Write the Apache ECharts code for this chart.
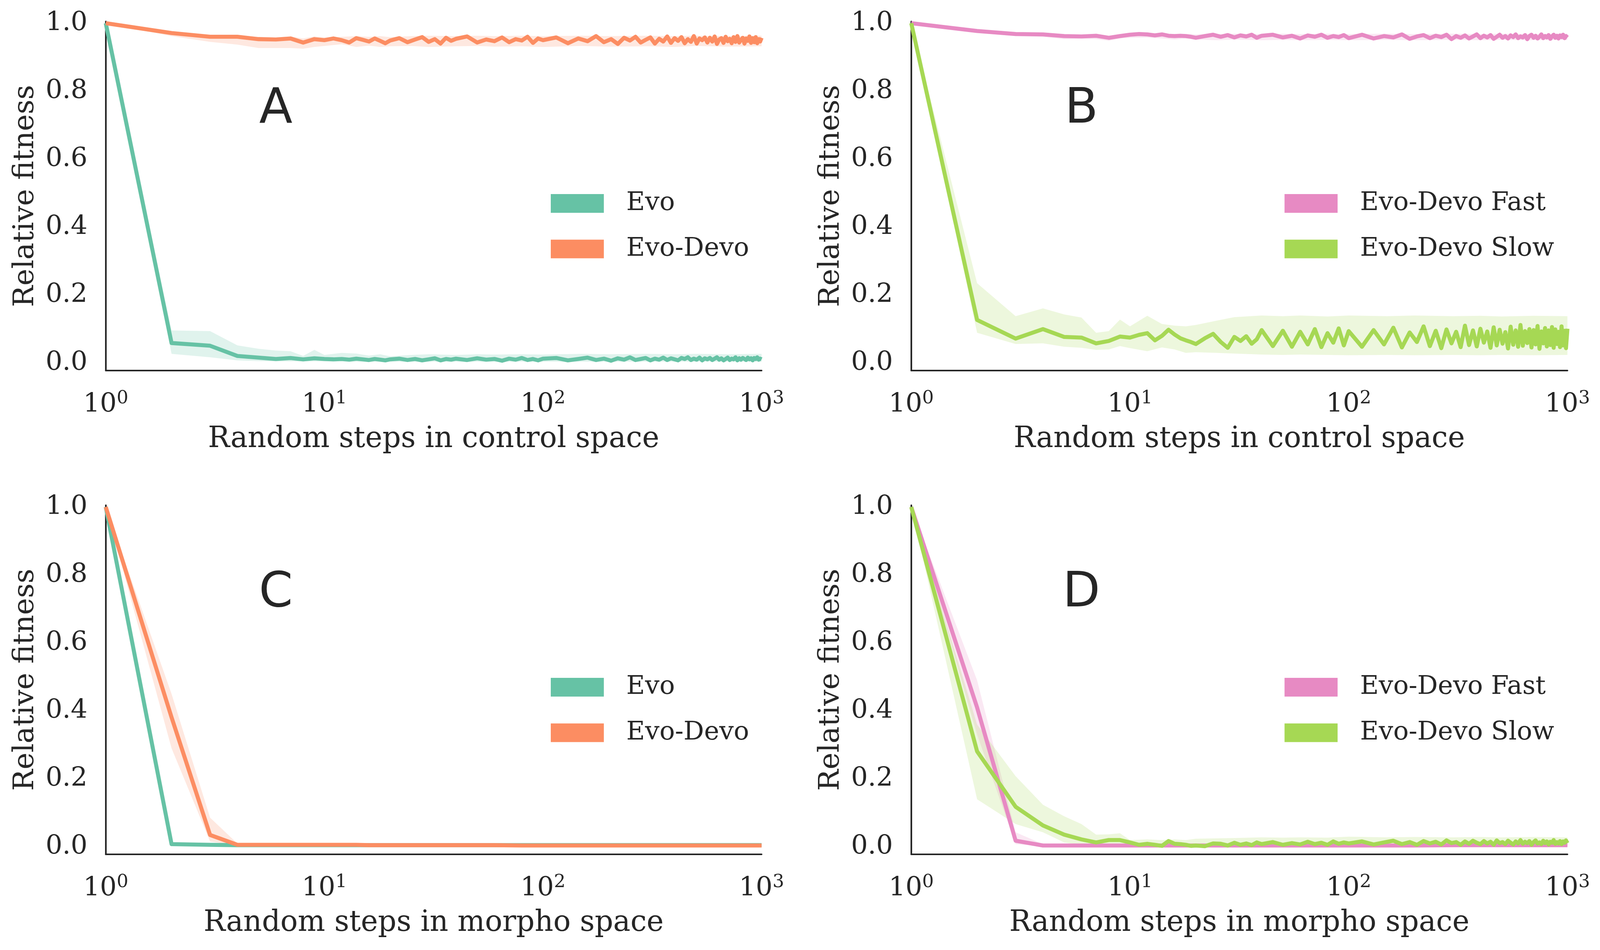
<!DOCTYPE html>
<html>
<head>
<meta charset="utf-8">
<script src="https://cdn.jsdelivr.net/npm/echarts@6/dist/echarts.min.js"></script>
<style>
  html, body { margin: 0; padding: 0; background: #fff; overflow: hidden; }
  #chart { width: 100vw; height: 100vh; }
</style>
</head>
<body>
<div id="chart"></div>
<script>
// x positions (random steps) used by the noisy curves
var stepsDense = [
    1, 2, 3, 4, 5, 6, 7, 8, 9, 10, 11, 12, 13, 14, 15, 16, 17, 18, 19, 20,
    22, 24, 26, 28, 30, 32, 34, 36, 38, 40,
    45, 50, 55, 60, 65, 70, 75, 80, 85, 90, 95, 100,
    115, 130, 145, 160, 175, 190, 205, 220, 235, 250,
    265, 280, 295, 310, 325, 340, 355, 370, 385, 400,
    415, 430, 445, 460, 475, 490, 505, 520, 535, 550,
    565, 580, 595, 610, 625, 640, 655, 670, 685, 700,
    715, 730, 745, 760, 775, 790, 805, 820, 835, 850,
    865, 880, 895, 910, 925, 940, 955, 970, 985, 1000
];
// x positions used by the confidence bands and the smooth curves
var stepsBand = [1, 2, 3, 4, 5, 6, 7, 8, 9, 10, 12, 14, 16, 18, 20, 25, 30, 40, 50, 60, 80, 100, 150, 200, 300, 400, 500, 700, 1000];

var yTicks = [0, 0.2, 0.4, 0.6, 0.8, 1.0];
var xTicks = [1, 10, 100, 1000];

// ---- panel A : control space ----
var evoA = [
    1.0, 0.059, 0.051, 0.021, 0.016, 0.012, 0.015, 0.011, 0.014, 0.012, 0.011, 0.012, 0.010, 0.013, 0.011, 0.009, 0.012, 0.010, 0.008, 0.011,
    0.013, 0.009, 0.012, 0.008, 0.011, 0.014, 0.008, 0.012, 0.010, 0.013,
    0.009, 0.014, 0.010, 0.012, 0.007, 0.013, 0.010, 0.015, 0.009, 0.012, 0.008, 0.013,
    0.015, 0.008, 0.012, 0.016, 0.009, 0.013, 0.007, 0.014, 0.010, 0.017,
    0.009, 0.012, 0.015, 0.008, 0.013, 0.010, 0.016, 0.009, 0.014, 0.011,
    0.008, 0.015, 0.012, 0.017, 0.009, 0.013, 0.010, 0.016, 0.008, 0.014,
    0.011, 0.015, 0.009, 0.013, 0.017, 0.010, 0.014, 0.008, 0.012, 0.016,
    0.009, 0.013, 0.011, 0.017, 0.008, 0.014, 0.010, 0.015, 0.012, 0.009,
    0.016, 0.011, 0.014, 0.008, 0.015, 0.012, 0.017, 0.010, 0.013, 0.011
];
var evoALo = [1.0, 0.027, 0.017, 0.008, 0.006, 0.005, 0.005, 0.005, 0.005, 0.005, 0.005, 0.004, 0.004, 0.004, 0.004, 0.004, 0.004, 0.004, 0.004, 0.004, 0.004, 0.004, 0.004, 0.004, 0.004, 0.004, 0.004, 0.004, 0.004];
var evoAHi = [1.0, 0.096, 0.094, 0.052, 0.042, 0.037, 0.035, 0.021, 0.039, 0.024, 0.030, 0.028, 0.022, 0.026, 0.020, 0.024, 0.026, 0.024, 0.026, 0.025, 0.026, 0.025, 0.027, 0.026, 0.027, 0.026, 0.027, 0.026, 0.027];

var devoA = [
    1.0, 0.971, 0.960, 0.960, 0.953, 0.952, 0.955, 0.943, 0.953, 0.950, 0.955, 0.950, 0.943, 0.956, 0.951, 0.946, 0.955, 0.948, 0.941, 0.949,
    0.956, 0.944, 0.952, 0.959, 0.945, 0.953, 0.940, 0.957, 0.948, 0.954,
    0.961, 0.943, 0.952, 0.947, 0.958, 0.944, 0.953, 0.949, 0.960, 0.942, 0.955, 0.950,
    0.958, 0.941, 0.955, 0.947, 0.962, 0.944, 0.953, 0.939, 0.957, 0.949,
    0.960, 0.943, 0.951, 0.958, 0.940, 0.954, 0.946, 0.961, 0.942, 0.956,
    0.948, 0.959, 0.941, 0.953, 0.945, 0.962, 0.940, 0.955, 0.950, 0.958,
    0.943, 0.957, 0.946, 0.961, 0.939, 0.952, 0.956, 0.942, 0.960, 0.947,
    0.954, 0.941, 0.959, 0.945, 0.962, 0.943, 0.951, 0.957, 0.940, 0.955,
    0.948, 0.961, 0.942, 0.956, 0.944, 0.959, 0.941, 0.953, 0.946, 0.957
];
var devoALo = [1.0, 0.962, 0.945, 0.937, 0.927, 0.927, 0.927, 0.925, 0.930, 0.933, 0.938, 0.930, 0.934, 0.930, 0.932, 0.933, 0.930, 0.932, 0.933, 0.931, 0.932, 0.930, 0.933, 0.931, 0.932, 0.930, 0.933, 0.931, 0.932];
var devoAHi = [1.0, 0.976, 0.964, 0.964, 0.960, 0.958, 0.961, 0.955, 0.961, 0.958, 0.960, 0.962, 0.960, 0.962, 0.959, 0.962, 0.963, 0.962, 0.963, 0.962, 0.963, 0.962, 0.963, 0.962, 0.963, 0.962, 0.963, 0.962, 0.963];

// ---- panel B : control space ----
var fastB = [
    1.0, 0.977, 0.968, 0.967, 0.962, 0.961, 0.963, 0.957, 0.962, 0.966, 0.968, 0.967, 0.964, 0.967, 0.963, 0.962, 0.963, 0.962, 0.960, 0.957,
    0.962, 0.966, 0.960, 0.965, 0.958, 0.964, 0.961, 0.966, 0.957, 0.963,
    0.966, 0.958, 0.963, 0.955, 0.964, 0.960, 0.966, 0.957, 0.962, 0.959, 0.965, 0.956,
    0.966, 0.955, 0.962, 0.958, 0.967, 0.954, 0.961, 0.965, 0.956, 0.963,
    0.959, 0.966, 0.953, 0.962, 0.957, 0.964, 0.955, 0.961, 0.967, 0.956,
    0.963, 0.958, 0.965, 0.954, 0.960, 0.966, 0.957, 0.962, 0.955, 0.964,
    0.959, 0.967, 0.956, 0.961, 0.958, 0.965, 0.953, 0.962, 0.966, 0.957,
    0.963, 0.955, 0.960, 0.967, 0.956, 0.962, 0.958, 0.965, 0.954, 0.961,
    0.966, 0.957, 0.963, 0.955, 0.964, 0.959, 0.966, 0.956, 0.962, 0.958
];
var fastBLo = [1.0, 0.972, 0.962, 0.960, 0.953, 0.955, 0.953, 0.948, 0.955, 0.957, 0.958, 0.955, 0.952, 0.955, 0.952, 0.950, 0.952, 0.950, 0.951, 0.950, 0.951, 0.950, 0.951, 0.950, 0.951, 0.950, 0.951, 0.950, 0.951];
var fastBHi = [1.0, 0.980, 0.971, 0.970, 0.966, 0.965, 0.966, 0.962, 0.966, 0.969, 0.970, 0.969, 0.968, 0.968, 0.967, 0.968, 0.969, 0.968, 0.969, 0.968, 0.969, 0.968, 0.969, 0.968, 0.969, 0.968, 0.969, 0.968, 0.969];

var slowB = [
    1.0, 0.127, 0.072, 0.100, 0.077, 0.075, 0.058, 0.065, 0.078, 0.075, 0.083, 0.088, 0.067, 0.080, 0.098, 0.084, 0.073, 0.067, 0.062, 0.056,
    0.073, 0.086, 0.062, 0.045, 0.077, 0.065, 0.079, 0.057, 0.070, 0.097,
    0.050, 0.095, 0.048, 0.092, 0.055, 0.100, 0.047, 0.088, 0.060, 0.102, 0.052, 0.094,
    0.048, 0.097, 0.055, 0.104, 0.046, 0.090, 0.062, 0.108, 0.050, 0.095,
    0.044, 0.099, 0.058, 0.092, 0.047, 0.110, 0.053, 0.096, 0.049, 0.101,
    0.060, 0.093, 0.045, 0.105, 0.052, 0.098, 0.057, 0.091, 0.043, 0.107,
    0.054, 0.096, 0.048, 0.112, 0.051, 0.094, 0.059, 0.100, 0.046, 0.097,
    0.055, 0.109, 0.042, 0.093, 0.058, 0.103, 0.049, 0.096, 0.053, 0.106,
    0.045, 0.099, 0.056, 0.092, 0.047, 0.108, 0.052, 0.095, 0.044, 0.101
];
var slowBLo = [1.0, 0.089, 0.056, 0.058, 0.048, 0.045, 0.039, 0.040, 0.050, 0.044, 0.035, 0.046, 0.040, 0.030, 0.032, 0.030, 0.028, 0.025, 0.024, 0.025, 0.024, 0.023, 0.024, 0.023, 0.024, 0.023, 0.024, 0.023, 0.024];
var slowBHi = [1.0, 0.235, 0.138, 0.161, 0.143, 0.134, 0.089, 0.094, 0.128, 0.108, 0.139, 0.115, 0.110, 0.108, 0.112, 0.125, 0.135, 0.140, 0.138, 0.140, 0.137, 0.140, 0.138, 0.140, 0.138, 0.139, 0.137, 0.139, 0.138];

// ---- panel C : morpho space ----
var evoC = [1.0, 0.008, 0.006, 0.005, 0.005, 0.005, 0.005, 0.005, 0.005, 0.005, 0.005, 0.005, 0.005, 0.005, 0.005, 0.005, 0.005, 0.005, 0.005, 0.005, 0.005, 0.005, 0.005, 0.005, 0.005, 0.005, 0.005, 0.005, 0.005];
var evoCLo = [1.0, 0.004, 0.003, 0.003, 0.003, 0.003, 0.003, 0.003, 0.003, 0.003, 0.003, 0.003, 0.003, 0.003, 0.003, 0.003, 0.003, 0.003, 0.003, 0.003, 0.003, 0.003, 0.003, 0.003, 0.003, 0.003, 0.003, 0.003, 0.003];
var evoCHi = [1.0, 0.013, 0.009, 0.008, 0.007, 0.007, 0.007, 0.007, 0.007, 0.007, 0.007, 0.007, 0.007, 0.007, 0.007, 0.007, 0.007, 0.007, 0.007, 0.007, 0.007, 0.007, 0.007, 0.007, 0.007, 0.007, 0.007, 0.007, 0.007];

var devoC = [1.0, 0.381, 0.035, 0.006, 0.006, 0.006, 0.006, 0.006, 0.006, 0.006, 0.006, 0.006, 0.005, 0.005, 0.005, 0.005, 0.005, 0.005, 0.005, 0.005, 0.004, 0.004, 0.004, 0.004, 0.004, 0.004, 0.004, 0.004, 0.004];
var devoCLo = [1.0, 0.290, 0.016, 0.004, 0.003, 0.003, 0.003, 0.003, 0.003, 0.003, 0.003, 0.003, 0.003, 0.003, 0.003, 0.003, 0.003, 0.003, 0.003, 0.003, 0.002, 0.002, 0.002, 0.002, 0.002, 0.002, 0.002, 0.002, 0.002];
var devoCHi = [1.0, 0.450, 0.086, 0.010, 0.008, 0.008, 0.008, 0.008, 0.008, 0.008, 0.008, 0.008, 0.007, 0.007, 0.007, 0.007, 0.007, 0.007, 0.007, 0.007, 0.006, 0.006, 0.006, 0.006, 0.006, 0.006, 0.006, 0.006, 0.006];

// ---- panel D : morpho space ----
var fastD = [1.0, 0.410, 0.018, 0.004, 0.004, 0.004, 0.004, 0.004, 0.004, 0.004, 0.004, 0.004, 0.004, 0.004, 0.004, 0.004, 0.004, 0.004, 0.004, 0.004, 0.004, 0.004, 0.004, 0.004, 0.005, 0.005, 0.005, 0.005, 0.005];
var fastDLo = [1.0, 0.330, 0.008, 0.002, 0.002, 0.002, 0.002, 0.002, 0.002, 0.002, 0.002, 0.002, 0.002, 0.002, 0.002, 0.002, 0.002, 0.002, 0.002, 0.002, 0.002, 0.002, 0.002, 0.002, 0.002, 0.002, 0.002, 0.002, 0.002];
var fastDHi = [1.0, 0.490, 0.043, 0.008, 0.006, 0.006, 0.006, 0.006, 0.006, 0.006, 0.006, 0.006, 0.006, 0.006, 0.006, 0.006, 0.006, 0.006, 0.006, 0.006, 0.006, 0.006, 0.006, 0.006, 0.007, 0.007, 0.007, 0.007, 0.007];

var slowD = [
    1.0, 0.281, 0.118, 0.063, 0.036, 0.022, 0.013, 0.020, 0.020, 0.013, 0.006, 0.009, 0.006, 0.003, 0.017, 0.009, 0.008, 0.006, 0.003, 0.004,
    0.002, 0.010, 0.009, 0.004, 0.012, 0.006, 0.010, 0.005, 0.013, 0.008,
    0.014, 0.006, 0.011, 0.007, 0.015, 0.008, 0.012, 0.006, 0.016, 0.009, 0.013, 0.010,
    0.016, 0.007, 0.013, 0.018, 0.008, 0.014, 0.006, 0.017, 0.010, 0.015,
    0.007, 0.019, 0.011, 0.014, 0.006, 0.016, 0.009, 0.018, 0.012, 0.008,
    0.017, 0.010, 0.015, 0.006, 0.019, 0.011, 0.014, 0.008, 0.018, 0.012,
    0.007, 0.016, 0.010, 0.020, 0.009, 0.015, 0.011, 0.017, 0.006, 0.014,
    0.019, 0.010, 0.013, 0.008, 0.018, 0.011, 0.016, 0.007, 0.015, 0.012,
    0.020, 0.009, 0.014, 0.010, 0.017, 0.008, 0.016, 0.012, 0.019, 0.011
];
var slowDLo = [1.0, 0.140, 0.067, 0.043, 0.013, 0.005, 0.003, 0.003, 0.003, 0.002, 0.002, 0.002, 0.002, 0.002, 0.002, 0.002, 0.002, 0.002, 0.002, 0.002, 0.002, 0.002, 0.002, 0.002, 0.002, 0.002, 0.002, 0.002, 0.002];
var slowDHi = [1.0, 0.360, 0.208, 0.124, 0.090, 0.067, 0.036, 0.037, 0.040, 0.020, 0.022, 0.020, 0.022, 0.020, 0.024, 0.025, 0.026, 0.028, 0.027, 0.028, 0.027, 0.030, 0.028, 0.029, 0.028, 0.029, 0.028, 0.029, 0.028];

var colors = { evo: "#66c2a5", devo: "#fc8d62", fast: "#e78ac3", slow: "#a6d854" };
var ink = "#262626";
var serif = "DejaVu Serif";

var panels = [
    { letter: "A", xName: "Random steps in control space", curves: [
        { name: "Evo", color: colors.evo, xs: stepsDense, ys: evoA, lo: evoALo, hi: evoAHi },
        { name: "Evo-Devo", color: colors.devo, xs: stepsDense, ys: devoA, lo: devoALo, hi: devoAHi }] },
    { letter: "B", xName: "Random steps in control space", curves: [
        { name: "Evo-Devo Fast", color: colors.fast, xs: stepsDense, ys: fastB, lo: fastBLo, hi: fastBHi },
        { name: "Evo-Devo Slow", color: colors.slow, xs: stepsDense, ys: slowB, lo: slowBLo, hi: slowBHi }] },
    { letter: "C", xName: "Random steps in morpho space", curves: [
        { name: "Evo", color: colors.evo, xs: stepsBand, ys: evoC, lo: evoCLo, hi: evoCHi },
        { name: "Evo-Devo", color: colors.devo, xs: stepsBand, ys: devoC, lo: devoCLo, hi: devoCHi }] },
    { letter: "D", xName: "Random steps in morpho space", curves: [
        { name: "Evo-Devo Fast", color: colors.fast, xs: stepsBand, ys: fastD, lo: fastDLo, hi: fastDHi },
        { name: "Evo-Devo Slow", color: colors.slow, xs: stepsDense, ys: slowD, lo: slowDLo, hi: slowDHi }] }
];

// layout designed for a 4372 x 2433 page, scaled to the real window
var dom = document.getElementById("chart");
var sx = dom.clientWidth / 4372, sy = dom.clientHeight / 2433, s = Math.min(sx, sy);

var boxes = [
    [289, 55, 1792, 894],
    [2490, 55, 1793, 894],
    [289, 1294, 1792, 894],
    [2490, 1294, 1793, 894]
];
var legendPos = [[1505, 488], [3510, 488], [1505, 1727], [3510, 1727]];

function pairs(xs, ys) {
    var res = [];
    for (var i = 0; i < xs.length; i++) res.push([xs[i], ys[i]]);
    return res;
}

// polygon between lo and hi, drawn through the axes' scales
function bandRenderer(xs, lo, hi, color) {
    return function (params, api) {
        if (params.dataIndex !== 0) return null;
        var pts = [];
        for (var j = 0; j < xs.length; j++) pts.push(api.coord([xs[j], lo[j]]));
        for (var j = xs.length - 1; j >= 0; j--) pts.push(api.coord([xs[j], hi[j]]));
        return { type: "polygon", shape: { points: pts }, style: { fill: color, opacity: 0.2 }, silent: true };
    };
}

var chart = echarts.init(dom, null, { renderer: "canvas" });

var grids = [], xAxes = [], yAxes = [], series = [], legends = [];

panels.forEach(function (p, i) {
    var b = boxes[i];
    grids.push({ left: b[0] * sx, top: b[1] * sy, width: b[2] * sx, height: b[3] * sy, containLabel: false });
    xAxes.push({
        type: "log", logBase: 10, min: 1, max: 1000, gridIndex: i,
        name: p.xName, nameLocation: "middle", nameGap: 140 * sy,
        nameTextStyle: { fontFamily: serif, fontSize: 79 * s, color: ink },
        axisLine: { show: true, onZero: false, lineStyle: { color: ink, width: 4.5 * s } },
        axisTick: { show: false },
        minorTick: { show: false },
        splitLine: { show: false },
        axisLabel: {
            show: true, margin: 48 * sy, color: ink, fontFamily: serif, fontSize: 72 * s, lineHeight: 84 * s,
            showMinLabel: true, showMaxLabel: true,
            customValues: xTicks,
            formatter: function (v) { return "10{sup|" + Math.round(Math.log10(v)) + "}"; },
            rich: { sup: { fontFamily: serif, fontSize: 50 * s, color: ink, lineHeight: 50 * s, verticalAlign: "top" } }
        }
    });
    yAxes.push({
        type: "value", min: -0.022, max: 1.005, gridIndex: i,
        name: "Relative fitness", nameLocation: "middle", nameGap: 180 * sx,
        nameTextStyle: { fontFamily: serif, fontSize: 78 * s, color: ink },
        axisLine: { show: true, onZero: false, lineStyle: { color: ink, width: 4.5 * s } },
        axisTick: { show: false },
        splitLine: { show: false },
        axisLabel: {
            show: true, margin: 50 * sx, color: ink, fontFamily: serif, fontSize: 72 * s,
            customValues: yTicks,
            formatter: function (v) { return v.toFixed(1); }
        }
    });
    // confidence bands first, then the mean lines on top
    p.curves.forEach(function (c) {
        series.push({
            type: "custom", xAxisIndex: i, yAxisIndex: i, z: 2, silent: true, clip: true,
            encode: { x: 0, y: [1, 2] },
            data: stepsBand.map(function (x, j) { return [x, c.lo[j], c.hi[j]]; }),
            renderItem: bandRenderer(stepsBand, c.lo, c.hi, c.color)
        });
    });
    p.curves.forEach(function (c) {
        series.push({
            name: c.name, type: "line", xAxisIndex: i, yAxisIndex: i, z: 3,
            data: pairs(c.xs, c.ys), showSymbol: false, symbol: "none",
            color: c.color, itemStyle: { color: c.color },
            lineStyle: { color: c.color, width: 11 * s, join: "round" }
        });
    });
    legends.push({
        show: true, orient: "vertical", left: legendPos[i][0] * sx, top: legendPos[i][1] * sy, padding: 0,
        itemWidth: 145 * s, itemHeight: 51 * s, itemGap: 54 * s, icon: "rect",
        data: p.curves.map(function (c) { return { name: c.name, itemStyle: { color: c.color } }; }),
        selectedMode: false,
        textStyle: { fontFamily: serif, fontSize: 70 * s, color: ink, lineHeight: 51 * s, padding: [0, 0, 0, 56 * s] }
    });
});

chart.setOption({
    animation: false,
    backgroundColor: "#ffffff",
    grid: grids,
    xAxis: xAxes,
    yAxis: yAxes,
    legend: legends,
    series: series
});

// panel letters placed in data coordinates
var letters = panels.map(function (p, i) {
    var pt = chart.convertToPixel({ xAxisIndex: i, yAxisIndex: i }, [6, 0.745]);
    return {
        type: "text", x: pt[0], y: pt[1], z: 10,
        style: { text: p.letter, fill: ink, font: (133 * s) + "px 'DejaVu Sans'", align: "center", verticalAlign: "middle" }
    };
});
chart.setOption({ graphic: letters });
</script>
</body>
</html>
